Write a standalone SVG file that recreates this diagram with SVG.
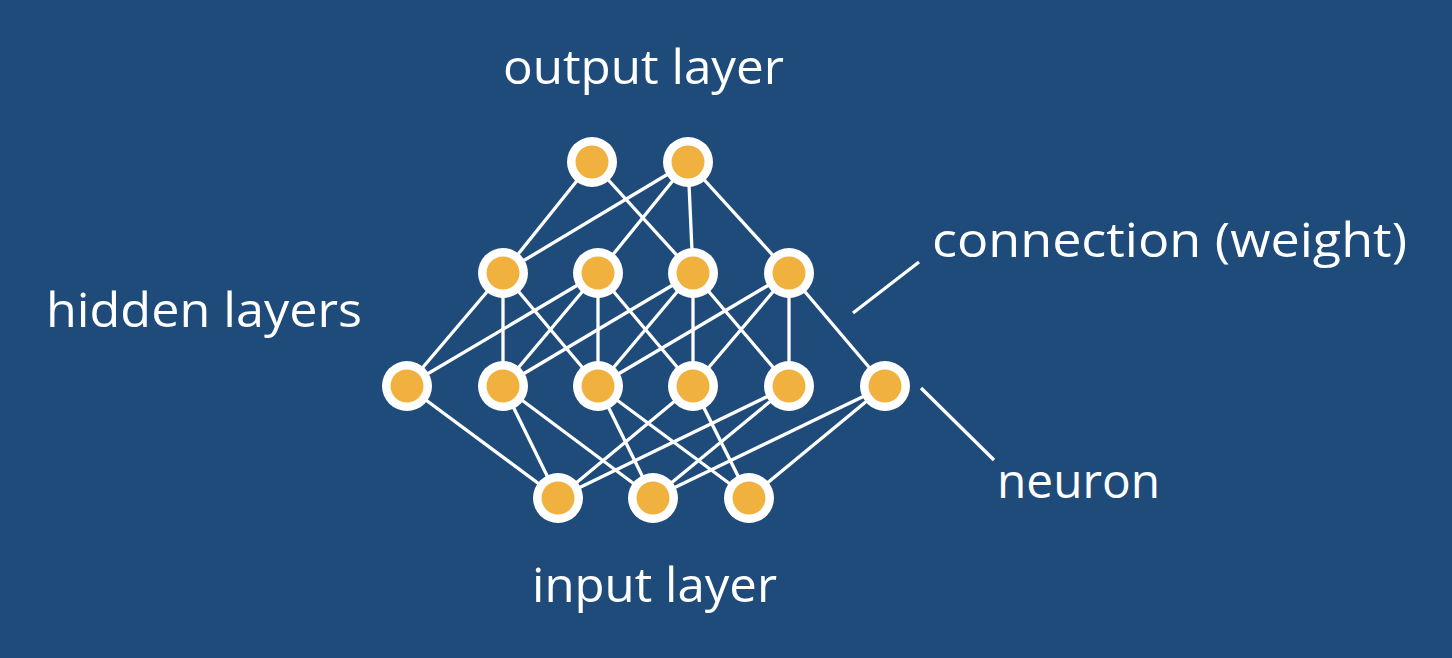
<svg xmlns="http://www.w3.org/2000/svg" width="1452" height="658" viewBox="0 0 1452 658">
<style>
.bg{fill:#1f4b7a}
.c line{stroke:#ffffff;stroke-width:3.3;stroke-linecap:butt}
.o{fill:#ffffff}
.i{fill:#f0b13f}
.t{fill:#ffffff;font-family:"Open Sans","Liberation Sans",sans-serif;font-size:48px}
</style>
<rect class="bg" x="0" y="0" width="1452" height="658"/>
<g id="connectors" class="c">
<line x1="592" y1="162" x2="503" y2="273"/>
<line x1="592" y1="162" x2="693" y2="273"/>
<line x1="688" y1="162" x2="503" y2="273"/>
<line x1="688" y1="162" x2="598" y2="273"/>
<line x1="688" y1="162" x2="693" y2="273"/>
<line x1="688" y1="162" x2="789" y2="273"/>
<line x1="503" y1="273" x2="407" y2="386"/>
<line x1="503" y1="273" x2="503" y2="386"/>
<line x1="503" y1="273" x2="598" y2="386"/>
<line x1="598" y1="273" x2="407" y2="386"/>
<line x1="598" y1="273" x2="503" y2="386"/>
<line x1="598" y1="273" x2="598" y2="386"/>
<line x1="598" y1="273" x2="693" y2="386"/>
<line x1="693" y1="273" x2="503" y2="386"/>
<line x1="693" y1="273" x2="598" y2="386"/>
<line x1="693" y1="273" x2="693" y2="386"/>
<line x1="693" y1="273" x2="789" y2="386"/>
<line x1="789" y1="273" x2="598" y2="386"/>
<line x1="789" y1="273" x2="693" y2="386"/>
<line x1="789" y1="273" x2="789" y2="386"/>
<line x1="789" y1="273" x2="885" y2="386"/>
<line x1="407" y1="386" x2="558" y2="498"/>
<line x1="503" y1="386" x2="558" y2="498"/>
<line x1="503" y1="386" x2="653" y2="498"/>
<line x1="598" y1="386" x2="653" y2="498"/>
<line x1="598" y1="386" x2="749" y2="498"/>
<line x1="693" y1="386" x2="558" y2="498"/>
<line x1="693" y1="386" x2="749" y2="498"/>
<line x1="789" y1="386" x2="558" y2="498"/>
<line x1="789" y1="386" x2="653" y2="498"/>
<line x1="885" y1="386" x2="653" y2="498"/>
<line x1="885" y1="386" x2="749" y2="498"/>
<line x1="853" y1="313" x2="919" y2="262"/>
<line x1="921" y1="388" x2="994" y2="460"/>
</g>
<g id="out1"><circle class="o" cx="592" cy="162" r="25"/><circle class="i" cx="592" cy="162" r="16.5"/></g>
<g id="out2"><circle class="o" cx="688" cy="162" r="25"/><circle class="i" cx="688" cy="162" r="16.5"/></g>
<g id="h1a"><circle class="o" cx="503" cy="273" r="25"/><circle class="i" cx="503" cy="273" r="16.5"/></g>
<g id="h1b"><circle class="o" cx="598" cy="273" r="25"/><circle class="i" cx="598" cy="273" r="16.5"/></g>
<g id="h1c"><circle class="o" cx="693" cy="273" r="25"/><circle class="i" cx="693" cy="273" r="16.5"/></g>
<g id="h1d"><circle class="o" cx="789" cy="273" r="25"/><circle class="i" cx="789" cy="273" r="16.5"/></g>
<g id="h2a"><circle class="o" cx="407" cy="386" r="25"/><circle class="i" cx="407" cy="386" r="16.5"/></g>
<g id="h2b"><circle class="o" cx="503" cy="386" r="25"/><circle class="i" cx="503" cy="386" r="16.5"/></g>
<g id="h2c"><circle class="o" cx="598" cy="386" r="25"/><circle class="i" cx="598" cy="386" r="16.5"/></g>
<g id="h2d"><circle class="o" cx="693" cy="386" r="25"/><circle class="i" cx="693" cy="386" r="16.5"/></g>
<g id="h2e"><circle class="o" cx="789" cy="386" r="25"/><circle class="i" cx="789" cy="386" r="16.5"/></g>
<g id="h2f"><circle class="o" cx="885" cy="386" r="25"/><circle class="i" cx="885" cy="386" r="16.5"/></g>
<g id="in1"><circle class="o" cx="558" cy="498" r="25"/><circle class="i" cx="558" cy="498" r="16.5"/></g>
<g id="in2"><circle class="o" cx="653" cy="498" r="25"/><circle class="i" cx="653" cy="498" r="16.5"/></g>
<g id="in3"><circle class="o" cx="749" cy="498" r="25"/><circle class="i" cx="749" cy="498" r="16.5"/></g>
<g id="labels">
<text class="t" x="503" y="84" textLength="281" lengthAdjust="spacingAndGlyphs">output layer</text>
<text class="t" x="46" y="327" textLength="316" lengthAdjust="spacingAndGlyphs">hidden layers</text>
<text class="t" x="932" y="257" textLength="475" lengthAdjust="spacingAndGlyphs">connection (weight)</text>
<text class="t" x="997" y="498" textLength="163" lengthAdjust="spacingAndGlyphs">neuron</text>
<text class="t" x="532" y="602" textLength="245" lengthAdjust="spacingAndGlyphs">input layer</text>
</g>
</svg>
